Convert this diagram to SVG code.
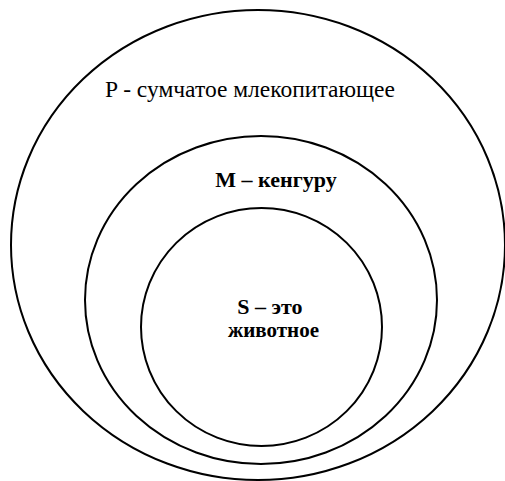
<svg xmlns="http://www.w3.org/2000/svg" width="505" height="481" viewBox="0 0 505 481">
<style>
.c{fill:none;stroke:#000;stroke-width:2}
.t{font-family:"Liberation Serif","Times New Roman",serif;fill:#000;text-anchor:middle}
.b{font-weight:bold}
</style>
<rect width="505" height="481" fill="#fff"/>
<g id="outer">
<ellipse class="c" cx="258" cy="245" rx="247" ry="235"/>
<text class="t" x="250" y="97" font-size="23.5">P - сумчатое млекопитающее</text>
</g>
<g id="middle">
<ellipse class="c" cx="261" cy="300" rx="176" ry="164"/>
<text class="t b" x="276" y="187" font-size="22">M – кенгуру</text>
</g>
<g id="inner">
<ellipse class="c" cx="261.5" cy="327" rx="120.5" ry="119"/>
<text class="t b" x="270" y="314" font-size="22">S – это</text>
<text class="t b" x="273.5" y="337" font-size="21">животное</text>
</g>
<g id="connectors"/>
</svg>
